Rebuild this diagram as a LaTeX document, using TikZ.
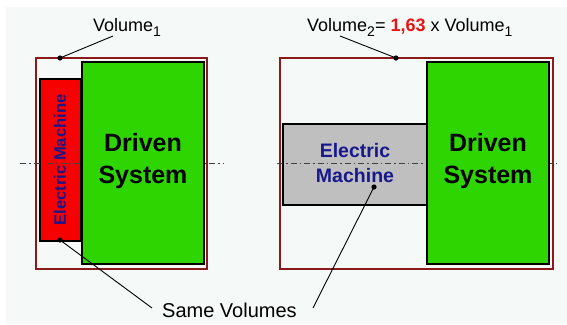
\documentclass[tikz,border=0pt]{standalone}
\usepackage{fontspec}
\setmainfont{Liberation Sans}
\definecolor{bgtint}{RGB}{245,249,247}
\definecolor{framered}{RGB}{140,26,26}
\definecolor{drivegreen}{RGB}{46,213,0}
\definecolor{motorred}{RGB}{246,0,0}
\definecolor{motorgray}{RGB}{190,191,190}
\definecolor{labelblue}{RGB}{24,24,140}
\definecolor{ratiored}{RGB}{230,20,20}
\newcommand{\lowsub}[1]{\raisebox{-4.5pt}{\fontsize{14}{14}\selectfont #1}}
\begin{document}
\begin{tikzpicture}[x=1pt,y=-1pt,
  envelope/.style={draw=framered,line width=1.8pt},
  drivebox/.style={draw=black,line width=1.6pt,fill=drivegreen},
  motorbox/.style={draw=black,line width=1.6pt},
  axisline/.style={draw=black!75,line width=0.8pt,dash pattern=on 6pt off 3pt on 1.5pt off 3pt},
  leader/.style={draw=black,line width=0.9pt},
  pin/.style={fill=black},
  drivetext/.style={font=\bfseries\fontsize{25}{32}\selectfont,align=center,inner sep=0pt},
  motortext/.style={font=\bfseries\fontsize{19.5}{25}\selectfont,text=labelblue,align=center,inner sep=0pt},
  plaintext/.style={font=\fontsize{18}{22}\selectfont,inner sep=0pt}
]
\useasboundingbox (0,0) rectangle (567,324);
\fill[bgtint] (6,7) rectangle (567,324);

% outer envelopes
\draw[envelope] (36,58) rectangle (207,269);
\draw[envelope] (280,58) rectangle (553,269);

% electric machines
\draw[motorbox,fill=motorred] (40,79) rectangle (81,241);
\draw[motorbox,fill=motorgray] (283,124) rectangle (427,205);

% shaft axes
\draw[axisline] (20,163) -- (223,163);
\draw[axisline] (277,163) -- (557,163);

% driven systems
\draw[drivebox] (82,62) rectangle (204,264);
\draw[drivebox] (427,62) rectangle (549,264);

\node[drivetext] (drvL) at (143,161.5) {Driven\\System};
\node[drivetext] (drvR) at (488,161.5) {Driven\\System};
\node[motortext,rotate=90,font=\bfseries\fontsize{16.6}{20}\selectfont] (emL) at (60,160) {Electric Machine};
\node[motortext] (emR) at (355,163.4) {Electric\\Machine};

% volume labels
\node[plaintext,anchor=base west] (volA) at (93,31.5) {Volume\lowsub{1}};
\node[plaintext,anchor=base west] (volB) at (307,31.5) {Volume\lowsub{2}= \textcolor{ratiored}{\bfseries 1,63} x Volume\lowsub{1}};
\node[plaintext,anchor=base west,font=\fontsize{20}{24}\selectfont] (same) at (162,317) {Same Volumes};

% leader ends
\coordinate (dotA) at (60,58);
\coordinate (dotB) at (396,58);
\coordinate (dotC) at (60,240);
\coordinate (dotD) at (374,187);
\coordinate (endA) at (113,36);
\coordinate (endB) at (340,36);
\coordinate (endC) at (152,308);
\coordinate (endD) at (313,308);

\draw[leader] (endA) -- (dotA);
\draw[leader] (endB) -- (dotB);
\draw[leader] (endC) -- (dotC);
\draw[leader] (endD) -- (dotD);
\foreach \p in {dotA,dotB,dotC,dotD} \fill[pin] (\p) circle (2.6pt);
\end{tikzpicture}
\end{document}
